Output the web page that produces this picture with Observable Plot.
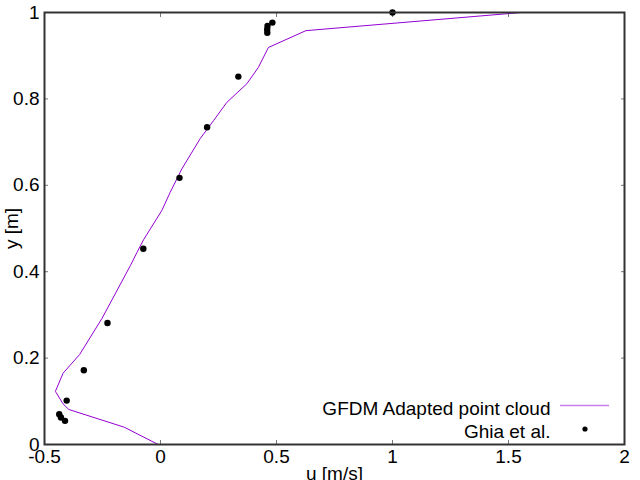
<!DOCTYPE html>
<html>
<head>
<meta charset="utf-8">
<script src="https://cdn.jsdelivr.net/npm/d3@7"></script>
<script src="https://cdn.jsdelivr.net/npm/@observablehq/plot@0.6"></script>
<style>
  html, body { margin: 0; padding: 0; background: #fff; }
  #chart { width: 640px; height: 480px; }
</style>
</head>
<body>
<div id="chart"></div>
<script>
// GFDM Adapted point cloud (line)
const gfdmU = [-0.01, -0.156, -0.395, -0.42, -0.453, -0.42, -0.349, -0.252, -0.130, -0.101, -0.073, 0.006, 0.042, 0.092, 0.171, 0.229, 0.286, 0.372, 0.422, 0.465, 0.627, 1.556];
const gfdmY = [0, 0.040, 0.081, 0.094, 0.123, 0.165, 0.208, 0.292, 0.414, 0.445, 0.474, 0.542, 0.584, 0.638, 0.708, 0.750, 0.792, 0.835, 0.873, 0.919, 0.958, 1.0];

// Ghia et al. (points)
const ghiaU = [1.0, 0.48223, 0.46120, 0.45992, 0.46036, 0.33556, 0.20087, 0.08183, -0.07404, -0.22855, -0.33050, -0.40435, -0.43643, -0.42901, -0.41165];
const ghiaY = [1.0, 0.9766, 0.9688, 0.9609, 0.9531, 0.8516, 0.7344, 0.6172, 0.4531, 0.2813, 0.1719, 0.1016, 0.0703, 0.0625, 0.0547];

const xTicks = [-0.5, 0, 0.5, 1, 1.5, 2];
const yTicks = [0, 0.2, 0.4, 0.6, 0.8, 1];
const xLabel = "u [m/s]";
const yLabel = "y [m]";
const seriesNames = ["GFDM Adapted point cloud", "Ghia et al."];
const lineColor = "#9400D3";

const gfdm = gfdmU.map((u, i) => ({u, y: gfdmY[i]}));
const ghia = ghiaU.map((u, i) => ({u, y: ghiaY[i]}));

const fmt = d => String(d);

function legendMark(index, scales, values, dims) {
  const right = dims.width - dims.marginRight;
  const bottom = dims.height - dims.marginBottom;
  const g = d3.create("svg:g");
  g.append("text").attr("x", right - 73.5).attr("y", bottom - 29)
    .attr("text-anchor", "end").attr("fill", "black").text(seriesNames[0]);
  g.append("line").attr("x1", right - 64).attr("x2", right - 15)
    .attr("y1", bottom - 38.5).attr("y2", bottom - 38.5)
    .attr("stroke", lineColor).attr("stroke-opacity", 0.5).attr("stroke-width", 1.5);
  g.append("text").attr("x", right - 73.5).attr("y", bottom - 6)
    .attr("text-anchor", "end").attr("fill", "black").text(seriesNames[1]);
  g.append("circle").attr("cx", right - 39).attr("cy", bottom - 15).attr("r", 2.6).attr("fill", "black");
  return g.node();
}

const chart = Plot.plot({
  width: 640,
  height: 480,
  marginLeft: 44,
  marginRight: 16,
  marginTop: 12,
  marginBottom: 36,
  style: {fontFamily: "'Liberation Sans', Arial, sans-serif", fontSize: "19px", background: "white", color: "black"},
  x: {domain: [-0.5, 2]},
  y: {domain: [0, 1]},
  marks: [
    Plot.axisX({anchor: "bottom", ticks: xTicks, tickFormat: fmt, tickSize: -4, tickPadding: 9, label: null, stroke: "#777", fill: "black"}),
    Plot.axisX({anchor: "top", ticks: xTicks, tickFormat: () => "", tickSize: -4, label: null, stroke: "#777"}),
    Plot.axisY({anchor: "left", ticks: yTicks, tickFormat: fmt, tickSize: -4, tickPadding: 9, label: null, stroke: "#777", fill: "black"}),
    Plot.axisY({anchor: "right", ticks: yTicks, tickFormat: () => "", tickSize: -4, label: null, stroke: "#777"}),
    Plot.line(gfdm, {x: "u", y: "y", stroke: lineColor, strokeWidth: 1}),
    Plot.dot(ghia, {x: "u", y: "y", r: 3.2, fill: "black"}),
    Plot.frame({stroke: "#333", strokeWidth: 2}),
    Plot.text([xLabel], {text: d => d, frameAnchor: "bottom", dy: 22, lineAnchor: "top", textAnchor: "middle", fill: "black"}),
    Plot.text([yLabel], {text: d => d, frameAnchor: "left", dx: -33, rotate: -90, textAnchor: "middle", fill: "black"}),
    legendMark
  ]
});

document.getElementById("chart").appendChild(chart);
</script>
</body>
</html>
